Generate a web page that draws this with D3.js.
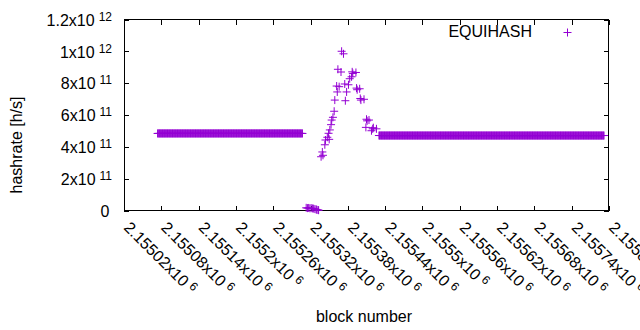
<!DOCTYPE html>
<html><head><meta charset="utf-8">
<script src="https://cdn.jsdelivr.net/npm/d3@7"></script>
<style>body{margin:0;background:#fff}svg{display:block}text{font-family:"Liberation Sans",Arial,sans-serif;fill:#000}</style>
</head><body><svg id="c" width="640" height="330"></svg>
<script>
const seriesName = "EQUIHASH";
const xLabel = "block number";
const yLabel = "hashrate [h/s]";
const xTicks = [2155020,2155080,2155140,2155200,2155260,2155320,2155380,2155440,2155500,2155560,2155620,2155680,2155740,2155800];
const xTickMantissa = ["2.15502","2.15508","2.15514","2.1552","2.15526","2.15532","2.15538","2.15544","2.1555","2.15556","2.15562","2.15568","2.15574","2.1558"];
const xTickExp = "6";
const yTicks = [0,2e11,4e11,6e11,8e11,1e12,1.2e12];
const yTickMantissa = ["0","2","4","6","8","1","1.2"];
const yTickExp = ["","11","11","11","11","12","12"];
// runs of consecutive blocks sharing one (flat) hashrate value
const runStart = [2155074, 2155430];
const runEnd   = [2155307, 2155792];
const runValue = [4.86e11, 4.73e11];
// individual blocks
const pointBlock = [2155313,2155315,2155317,2155319,2155321,2155323,2155325,2155327,2155329,2155330,2155332,2155333,
  2155337,2155339,2155340,2155343,2155344,2155347,2155349,2155350,2155351,2155353,2155354,2155356,2155358,2155359,2155362,2155363,2155364,2155366,2155369,2155370,
  2155373,2155375,2155376,2155378,2155381,2155383,2155386,2155387,2155388,2155393,2155394,2155395,2155399,2155400,2155401,
  2155406,2155409,2155410,2155411,2155414,2155418,2155420,2155421,2155426];
const pointValue = [2.0e10,1.8e10,1.9e10,1.7e10,1.8e10,1.6e10,1.5e10,1.2e10,1.0e10,0.8e10,0.6e10,0.5e10,
  3.40e11,3.70e11,3.49e11,4.15e11,4.45e11,4.62e11,4.87e11,4.49e11,5.08e11,5.41e11,5.70e11,5.87e11,6.25e11,6.95e11,7.83e11,7.46e11,8.88e11,7.79e11,8.71e11,
  1.001e12,9.85e11,7.96e11,6.91e11,7.46e11,7.91e11,8.29e11,8.41e11,8.72e11,8.62e11,8.68e11,7.70e11,7.60e11,7.66e11,7.05e11,6.95e11,7.00e11,
  5.24e11,5.75e11,5.65e11,5.70e11,5.03e11,5.15e11,5.22e11,5.15e11,4.62e11];

const color = "#9400d3";
const svg = d3.select("#c");
const L = 124, R = 609, T = 19.5, B = 211;
const x = d3.scaleLinear().domain([xTicks[0], xTicks[xTicks.length-1]]).range([L, R]);
const y = d3.scaleLinear().domain([0, 1.2e12]).range([B, T]);

// build data
const data = [];
runStart.forEach((s, i) => { for (let b = s; b <= runEnd[i]; b++) data.push({b, v: runValue[i]}); });
pointBlock.forEach((b, i) => data.push({b, v: pointValue[i]}));

// axes (ticks inward, mirrored)
const ax = svg.append("g").attr("transform", `translate(0,${B})`)
  .call(d3.axisBottom(x).tickValues(xTicks).tickSize(-5).tickSizeOuter(0).tickFormat(""));
const axT = svg.append("g").attr("transform", `translate(0,${T})`)
  .call(d3.axisTop(x).tickValues(xTicks).tickSize(-5).tickSizeOuter(0).tickFormat(""));
const ay = svg.append("g").attr("transform", `translate(${L},0)`)
  .call(d3.axisLeft(y).tickValues(yTicks).tickSize(-5).tickSizeOuter(0).tickFormat(""));
const ayR = svg.append("g").attr("transform", `translate(${R},0)`)
  .call(d3.axisRight(y).tickValues(yTicks).tickSize(-5).tickSizeOuter(0).tickFormat(""));
svg.selectAll(".domain").remove();
svg.selectAll(".tick line").attr("stroke", "#000").attr("shape-rendering", "crispEdges");

// y tick labels
ay.selectAll(".tick").each(function(d, i) {
  const t = d3.select(this).append("text").attr("x", yTickExp[i] ? -12 : -14.5).attr("dy", "0.35em")
    .attr("text-anchor", "end").style("font-size", "16px");
  t.append("tspan").text(yTickMantissa[i] + (yTickExp[i] ? "x10" : ""));
  if (yTickExp[i]) t.append("tspan").attr("dx", 4).attr("dy", -5).style("font-size", "12px").text(yTickExp[i]);
});
// x tick labels
ax.selectAll(".tick").each(function(d, i) {
  const t = d3.select(this).append("text").attr("transform", "translate(2.5,13.5) rotate(45)")
    .attr("dy", "0.35em").attr("text-anchor", "start").style("font-size", "16px");
  t.append("tspan").text(xTickMantissa[i] + "x10");
  t.append("tspan").attr("dx", 4).attr("dy", -5).style("font-size", "12px").text(xTickExp);
});

// frame
svg.append("rect").attr("x", L + 0.5).attr("y", T).attr("width", R - L - 1).attr("height", B - T - 0.5)
  .attr("fill", "none").attr("stroke", "#000");

// points as plus markers
const pg = svg.append("g");
const h = 4;
pg.selectAll("path").data(data).join("path")
  .attr("d", d => { const cx = x(d.b), cy = y(d.v); return `M${cx-h},${cy}H${cx+h}M${cx},${cy-h}V${cy+h}`; })
  .attr("stroke", color).attr("stroke-width", 1).attr("fill", "none");

// legend
svg.append("text").attr("x", 532).attr("y", 31.5).attr("dy", "0.35em").attr("text-anchor", "end")
  .style("font-size", "16px").text(seriesName);
svg.append("path").attr("d", `M${567.5-h},32.5H${567.5+h}M567.5,${32.5-h}V${32.5+h}`)
  .attr("stroke", color).attr("fill", "none");

// axis labels
svg.append("text").attr("transform", "translate(22,145) rotate(-90)").attr("text-anchor", "middle")
  .style("font-size", "16px").text(yLabel);
svg.append("text").attr("x", 364).attr("y", 321.5).attr("text-anchor", "middle")
  .style("font-size", "16px").text(xLabel);
</script></body></html>
